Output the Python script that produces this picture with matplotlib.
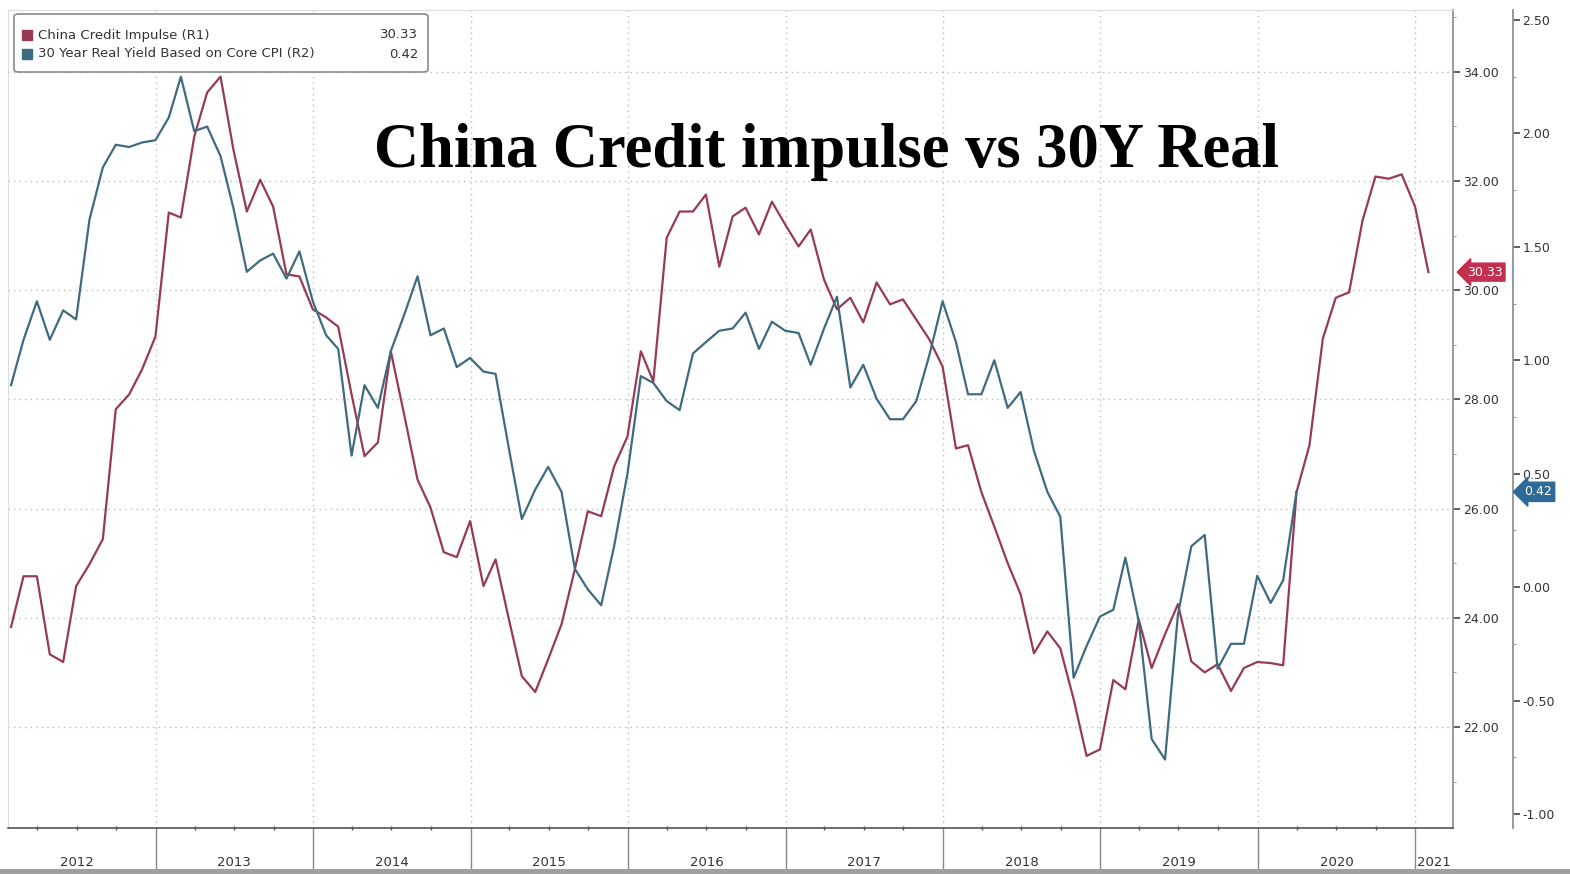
import numpy as np
import pandas as pd
import matplotlib
matplotlib.use('Agg')
import matplotlib.pyplot as plt
import matplotlib.dates as mdates
from matplotlib.ticker import FixedLocator, FixedFormatter, MultipleLocator, FormatStrFormatter
from matplotlib.patches import FancyBboxPatch, Rectangle

# China credit impulse (R1), month-end, Jan 2012 - Jan 2021
impulse = [23.83, 24.76, 24.76, 23.33, 23.19, 24.58, 24.98, 25.44, 27.82, 28.09, 28.55, 29.15,
           31.42, 31.33, 32.81, 33.62, 33.91, 32.57, 31.44, 32.02, 31.53, 30.29, 30.25, 29.65,
           29.50, 29.33, 28.09, 26.96, 27.21, 28.88, 27.72, 26.53, 26.02, 25.20, 25.11, 25.77,
           24.58, 25.07, 23.97, 22.93, 22.64, 23.24, 23.88, 24.89, 25.95, 25.86, 26.77, 27.32,
           28.88, 28.33, 30.96, 31.44, 31.44, 31.75, 30.43, 31.35, 31.51, 31.02, 31.62, 31.20,
           30.80, 31.11, 30.19, 29.65, 29.86, 29.41, 30.14, 29.74, 29.83, 29.46, 29.10, 28.60,
           27.10, 27.16, 26.30, 25.67, 25.00, 24.43, 23.35, 23.75, 23.44, 22.51, 21.47, 21.59,
           22.86, 22.69, 23.97, 23.08, 23.70, 24.25, 23.20, 23.00, 23.15, 22.66, 23.08, 23.19,
           23.17, 23.13, 26.30, 27.16, 29.11, 29.86, 29.96, 31.27, 32.08, 32.04, 32.12, 31.53,
           30.33]

# 30Y real yield based on core CPI (R2), month-end, Jan 2012 - Mar 2020
real_yield = [0.89, 1.09, 1.26, 1.09, 1.22, 1.18, 1.62, 1.85, 1.95, 1.94, 1.96, 1.97,
              2.07, 2.25, 2.01, 2.03, 1.90, 1.67, 1.39, 1.44, 1.47, 1.36, 1.48, 1.26,
              1.11, 1.05, 0.58, 0.89, 0.79, 1.04, 1.20, 1.37, 1.11, 1.14, 0.97, 1.01,
              0.95, 0.94, 0.61, 0.30, 0.43, 0.53, 0.42, 0.08, -0.01, -0.08, 0.18, 0.50,
              0.93, 0.90, 0.82, 0.78, 1.03, 1.08, 1.13, 1.14, 1.21, 1.05, 1.17, 1.13,
              1.12, 0.98, 1.14, 1.28, 0.88, 0.98, 0.83, 0.74, 0.74, 0.82, 1.02, 1.26,
              1.08, 0.85, 0.85, 1.00, 0.79, 0.86, 0.60, 0.42, 0.31, -0.40, -0.26, -0.13,
              -0.10, 0.13, -0.15, -0.67, -0.76, -0.12, 0.18, 0.23, -0.36, -0.25, -0.25, 0.05,
              -0.07, 0.03, 0.42]

years = [str(y) for y in range(2012, 2022)]

impulse_dates = pd.date_range('2012-01-31', periods=len(impulse), freq='ME')
yield_dates = pd.date_range('2012-01-31', periods=len(real_yield), freq='ME')

red = '#963a55'
blue = '#3e6b80'
txt = '#333333'
grid_c = '#bdbdbd'

fig = plt.figure(figsize=(15.7, 8.74), dpi=100)
ax = fig.add_axes([8 / 1570, 46 / 874, 1445 / 1570, 818 / 874])
ax2 = ax.twinx()

ax.plot(impulse_dates, impulse, color=red, lw=1.6, zorder=3)
ax2.plot(yield_dates, real_yield, color=blue, lw=1.6, zorder=3)

x0 = pd.Timestamp('2012-01-24')
x1 = pd.Timestamp('2021-03-29')
ax.set_xlim(x0, x1)
ax.set_ylim(20.15, 35.13)
ax2.set_ylim(-1.062, 2.544)

# R1 axis on the right edge of the plot
ax.yaxis.tick_right()
ax.yaxis.set_major_locator(MultipleLocator(2))
ax.yaxis.set_minor_locator(MultipleLocator(1))
ax.yaxis.set_major_formatter(FormatStrFormatter('%.2f'))
ax.tick_params(axis='y', which='major', length=5, width=1.2, color='#444444',
               labelsize=9, labelcolor=txt, pad=2)
ax.tick_params(axis='y', which='minor', length=2, color='#888888')

# R2 axis further out
ax2.spines['right'].set_position(('outward', 43))
ax2.yaxis.set_major_locator(MultipleLocator(0.5))
ax2.yaxis.set_minor_locator(MultipleLocator(0.25))
ax2.yaxis.set_major_formatter(FormatStrFormatter('%.2f'))
ax2.tick_params(axis='y', which='major', length=5, width=1.2, color='#444444',
                labelsize=9, labelcolor=txt, pad=2)
ax2.tick_params(axis='y', which='minor', length=2, color='#888888')

for a in (ax, ax2):
    a.spines['top'].set_color('#dddddd')
    a.spines['left'].set_color('#dddddd')
    a.spines['right'].set_color('#9a9a9a')
    a.spines['right'].set_linewidth(1.4)
    a.spines['bottom'].set_color('#555555')
    a.spines['bottom'].set_linewidth(1.2)
ax2.spines['bottom'].set_visible(False)
ax2.spines['top'].set_visible(False)
ax2.spines['left'].set_visible(False)

# x axis: long year separators, quarter dots, year labels centred
ax.xaxis.set_major_locator(mdates.YearLocator())
ax.xaxis.set_minor_locator(mdates.MonthLocator((4, 7, 10)))
ax.tick_params(axis='x', which='major', length=30, width=1.0, color='#888888',
               labelbottom=False)
ax.tick_params(axis='x', which='minor', length=3, width=1.0, direction='inout',
               color='#555555')

mids = []
for y in range(2012, 2021):
    mids.append(mdates.date2num(pd.Timestamp(f'{y}-07-02')))
mids.append((mdates.date2num(pd.Timestamp('2021-01-01')) + mdates.date2num(x1)) / 2)
sec = ax.secondary_xaxis('bottom')
sec.xaxis.set_major_locator(FixedLocator(mids))
sec.xaxis.set_major_formatter(FixedFormatter(years))
sec.tick_params(axis='x', length=0, labelsize=9.5, labelcolor=txt, pad=20)
sec.spines['bottom'].set_visible(False)

ax.grid(True, axis='y', which='major', color=grid_c, ls=(0, (1, 3)), lw=1.0)
ax.grid(True, axis='x', which='major', color=grid_c, ls=(0, (1, 3)), lw=1.0)
ax.set_axisbelow(True)

# last-value tags
ax.annotate('30.33', xy=(1, impulse[-1]), xycoords=('axes fraction', 'data'),
            xytext=(10, 0), textcoords='offset points', va='center', ha='left',
            fontsize=9, color='white', annotation_clip=False,
            bbox=dict(boxstyle='larrow,pad=0.2', fc='#c2304f', ec='#c2304f'))
ax2.annotate('0.42', xy=(1, real_yield[-1]), xycoords=('axes fraction', 'data'),
             xytext=(51, 0), textcoords='offset points', va='center', ha='left',
             fontsize=9, color='white', annotation_clip=False,
             bbox=dict(boxstyle='larrow,pad=0.25', fc='#2e6a98', ec='#2e6a98'))

# title
fig.text(826 / 1570, 1 - 152 / 874, 'China Credit impulse vs 30Y Real',
         family='Liberation Serif', fontweight='bold', fontsize=45,
         ha='center', va='center', color='black')

# legend box
fig.patches.append(FancyBboxPatch((14 / 1570, 1 - 72 / 874), 414 / 1570, 58 / 874,
                                  boxstyle='round,pad=0,rounding_size=0.003',
                                  transform=fig.transFigure, fc='white',
                                  ec='#8a8a8a', lw=1.2, zorder=5))
rows = [('China Credit Impulse (R1)', '30.33', red, 35),
        ('30 Year Real Yield Based on Core CPI (R2)', '0.42', blue, 54)]
for label, val, c, yy in rows:
    fig.patches.append(Rectangle((22 / 1570, 1 - (yy + 5) / 874), 10 / 1570, 10 / 874,
                                 transform=fig.transFigure, fc=c, ec=c, zorder=6))
    fig.text(38 / 1570, 1 - yy / 874, label, fontsize=9.5, color=txt,
             va='center', ha='left', zorder=7)
    fig.text(418 / 1570, 1 - yy / 874, val, fontsize=9.5, color=txt,
             va='center', ha='right', zorder=7)

# grey strip along the bottom
fig.patches.append(Rectangle((0, 0), 1, 5 / 874, transform=fig.transFigure,
                             fc='#a0a0a0', ec='none'))

fig.savefig('out.png', dpi=100)
